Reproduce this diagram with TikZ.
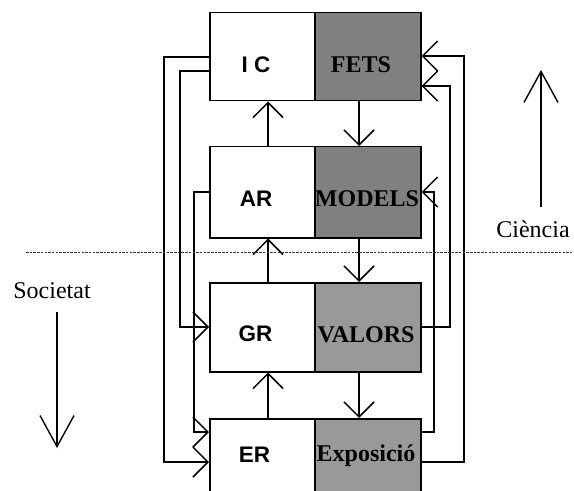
\documentclass[tikz,border=0pt]{standalone}
\usepackage{fontspec}
\setmainfont{Liberation Serif}
\newfontfamily\labelsans{Liberation Sans}
\usetikzlibrary{arrows.meta}
\definecolor{factfill}{RGB}{128,128,128}
\definecolor{valuefill}{RGB}{153,153,153}

\begin{document}
\begin{tikzpicture}[x=1bp,y=-1bp,
  cell/.style={draw=black, line width=1.5bp, inner sep=0pt, anchor=north west},
  leftcell/.style={cell, fill=white, minimum width=105bp},
  rightcell/.style={cell, minimum width=106bp},
  sanslabel/.style={anchor=base, inner sep=0pt,
    font=\labelsans\bfseries\fontsize{22.5bp}{26bp}\selectfont},
  seriflabel/.style={anchor=base, inner sep=0pt,
    font=\bfseries\fontsize{24bp}{28bp}\selectfont},
  sidelabel/.style={anchor=base, inner sep=0pt,
    font=\fontsize{24bp}{28bp}\selectfont},
  link/.style={line width=1.5bp,
    -{Straight Barb[length=15bp, width=30bp, line width=1.5bp]}},
  bigarrow/.style={line width=1.4bp,
    -{Straight Barb[length=31bp, width=34bp, line width=1.4bp]}},
  dashline/.style={line width=0.6bp, black!80, dash pattern=on 2.5bp off 1.2bp}
]
\useasboundingbox (0,0) rectangle (574,491);

% the four stacked pairs of cells
\node[leftcell, minimum height=88bp] (ic) at (209,12) {};
\node[rightcell, fill=factfill, minimum height=88bp] (fets) at (314,12) {};
\node[leftcell, minimum height=91bp] (ar) at (209,146) {};
\node[rightcell, fill=factfill, minimum height=91bp] (models) at (314,146) {};
\node[leftcell, minimum height=89bp] (gr) at (209,282) {};
\node[rightcell, fill=valuefill, minimum height=89bp] (valors) at (314,282) {};
\node[leftcell, minimum height=90bp] (er) at (209,418) {};
\node[rightcell, fill=valuefill, minimum height=90bp] (expo) at (314,418) {};

% cell texts
\node[sanslabel] (icT) at (256,73) {I C};
\node[seriflabel] (fetsT) at (361,73) {FETS};
\node[sanslabel] (arT) at (256,207) {AR};
\node[seriflabel] (modelsT) at (367,207) {MODELS};
\node[sanslabel] (grT) at (255.5,341) {GR};
\node[seriflabel] (valorsT) at (366,342) {VALORS};
\node[sanslabel] (erT) at (254.5,462) {ER};
\node[seriflabel] (expoT) at (366,461) {Exposició};

% vertical links between neighbouring cells
\coordinate (xl) at (268,0);
\coordinate (xr) at (359,0);
\draw[link] (ar.north -| xl) -- (ic.south -| xl);
\draw[link] (gr.north -| xl) -- (ar.south -| xl);
\draw[link] (er.north -| xl) -- (gr.south -| xl);
\draw[link] (fets.south -| xr) -- (models.north -| xr);
\draw[link] (models.south -| xr) -- (valors.north -| xr);
\draw[link] (valors.south -| xr) -- (expo.north -| xr);

% feedback loops on the left
\draw[link] (ic.west |- 0,57) -| (164,462) -- (er.west |- 0,462);
\draw[link] (ic.west |- 0,71) -| (180,327) -- (gr.west |- 0,327);
\draw[link] (ar.west |- 0,192) -| (194,432) -- (er.west |- 0,432);

% feedback loops on the right
\draw[link] (expo.east |- 0,462) -| (464,56) -- (fets.east |- 0,56);
\draw[link] (valors.east |- 0,327) -| (450,86) -- (fets.east |- 0,86);
\draw[link] (expo.east |- 0,432) -| (434,192) -- (models.east |- 0,192);

% border between science and society
\draw[dashline] (26,252) -- (574,252);

% side arrows
\node[sidelabel] (cien) at (533,237) {Ciència};
\coordinate (cienA) at (541,207);
\coordinate (cienB) at (541,70);
\draw[bigarrow] (cienA) -- (cienB);

\node[sidelabel] (soc) at (52,298) {Societat};
\coordinate (socA) at (57,312);
\coordinate (socB) at (57,448);
\draw[bigarrow] (socA) -- (socB);
\end{tikzpicture}
\end{document}
